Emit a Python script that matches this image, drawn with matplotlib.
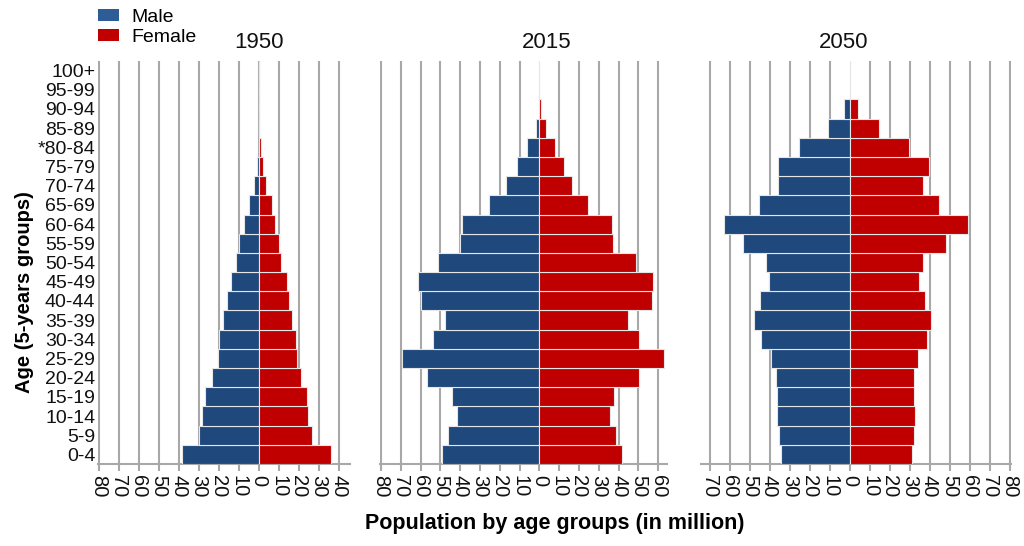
import numpy as np
import matplotlib.pyplot as plt
from matplotlib.patches import Patch

plt.rcParams['font.family'] = ['Liberation Sans', 'DejaVu Sans']

# age groups, from bottom to top
ages = ['0-4', '5-9', '10-14', '15-19', '20-24', '25-29', '30-34', '35-39',
        '40-44', '45-49', '50-54', '55-59', '60-64', '65-69', '70-74',
        '75-79', '*80-84', '85-89', '90-94', '95-99', '100+']

years = ['1950', '2015', '2050']

# population in million
male_1950 = [38.7, 29.8, 28.7, 27.0, 23.3, 20.3, 20.0, 18.0, 15.8, 14.2, 11.7,
             10.0, 7.3, 5.0, 2.3, 1.2, 0, 0, 0, 0, 0]
female_1950 = [36.0, 26.3, 24.7, 23.8, 21.2, 18.8, 18.3, 16.7, 15.2, 13.8, 11.0,
               10.2, 8.2, 6.3, 3.7, 2.2, 0.8, 0, 0, 0, 0]
male_2015 = [49.1, 45.9, 41.8, 44.0, 56.8, 69.3, 53.6, 47.7, 59.8, 61.2, 51.4,
             40.3, 39.0, 25.4, 16.6, 11.4, 6.2, 1.9, 0.2, 0, 0]
female_2015 = [41.8, 38.6, 35.6, 37.8, 50.3, 63.0, 50.3, 45.0, 56.8, 57.5, 48.6,
               37.3, 36.6, 24.8, 16.6, 12.4, 8.0, 3.3, 0.9, 0, 0]
male_2050 = [34.4, 35.4, 36.1, 36.4, 36.8, 39.1, 44.3, 47.6, 44.6, 40.3, 41.9,
             53.4, 62.9, 45.4, 35.6, 35.9, 25.1, 10.6, 2.6, 0, 0]
female_2050 = [31.4, 32.1, 32.6, 32.4, 32.4, 34.3, 38.6, 40.9, 37.9, 34.6, 36.8,
               48.1, 59.4, 44.9, 36.9, 39.9, 29.9, 14.6, 4.1, 0.4, 0]

males = [male_1950, male_2015, male_2050]
females = [female_1950, female_2015, female_2050]

# x ranges of each panel (pixels at 1024 wide)
xlims = [(-80.5, 45.5), (-80.5, 64.5), (-74.5, 80.5)]
lefts = [98, 380, 700.5]
widths = [252, 287, 310]
title_x = [0.639, 0.582, 0.461]

blue = '#1f487c'
red = '#c00000'
grid_c = '#a8a8a8'

fig = plt.figure(figsize=(10.24, 5.46), dpi=100)
y = np.arange(len(ages))

for i in range(3):
    ax = fig.add_axes([lefts[i] / 1024, 82 / 546, widths[i] / 1024, 403 / 546])
    ax.barh(y, -np.array(males[i]), height=1, color=blue,
            edgecolor='#e6e6e6', linewidth=0.8, zorder=3)
    ax.barh(y, females[i], height=1, color=red,
            edgecolor='#e6e6e6', linewidth=0.8, zorder=3)
    ax.set_xlim(*xlims[i])
    ax.set_ylim(-0.5, len(ages) - 0.5)

    lo = int(np.ceil(xlims[i][0] / 10) * 10)
    hi = int(np.floor(xlims[i][1] / 10) * 10)
    ticks = np.arange(lo, hi + 1, 10)
    ax.set_xticks(ticks)
    ax.set_xticklabels([str(abs(t)) for t in ticks], rotation=-90, fontsize=14.5)

    # vertical grid, the middle one only on the first panel
    for t in ticks:
        if t == 0 and i > 0:
            continue
        ax.axvline(t, color=grid_c, lw=1.5, zorder=1)

    for s in ['top', 'left', 'right']:
        ax.spines[s].set_visible(False)
    ax.spines['bottom'].set_color(grid_c)
    ax.spines['bottom'].set_linewidth(1.5)
    ax.tick_params(axis='x', colors=grid_c, length=5, width=1.5, pad=3,
                   labelcolor='#111111')

    if i == 0:
        ax.set_yticks(y)
        ax.set_yticklabels(ages, fontsize=14)
        ax.tick_params(axis='y', length=0, pad=2, labelcolor='#111111')
    else:
        ax.set_yticks([])

    ax.text(title_x[i], 1.047, years[i], transform=ax.transAxes,
            ha='center', va='center', fontsize=16, color='#111111')

fig.text(25 / 1024, 1 - 292 / 546, 'Age (5-years groups)', rotation=90,
         ha='center', va='center', fontsize=14.5, fontweight='bold')
fig.text(555 / 1024, 1 - 524 / 546, 'Population by age groups (in million)',
         ha='center', va='center', fontsize=15.5, fontweight='bold')

handles = [Patch(facecolor='#2e5c96', label='Male'),
           Patch(facecolor=red, label='Female')]
fig.legend(handles=handles, loc='upper left', bbox_to_anchor=(98 / 1024, 1 - 9 / 546),
           frameon=False, fontsize=14, handlelength=1.1, handleheight=0.6,
           handletextpad=0.6, labelspacing=0.15, borderpad=0, borderaxespad=0)

plt.savefig('out.png', dpi=100)
